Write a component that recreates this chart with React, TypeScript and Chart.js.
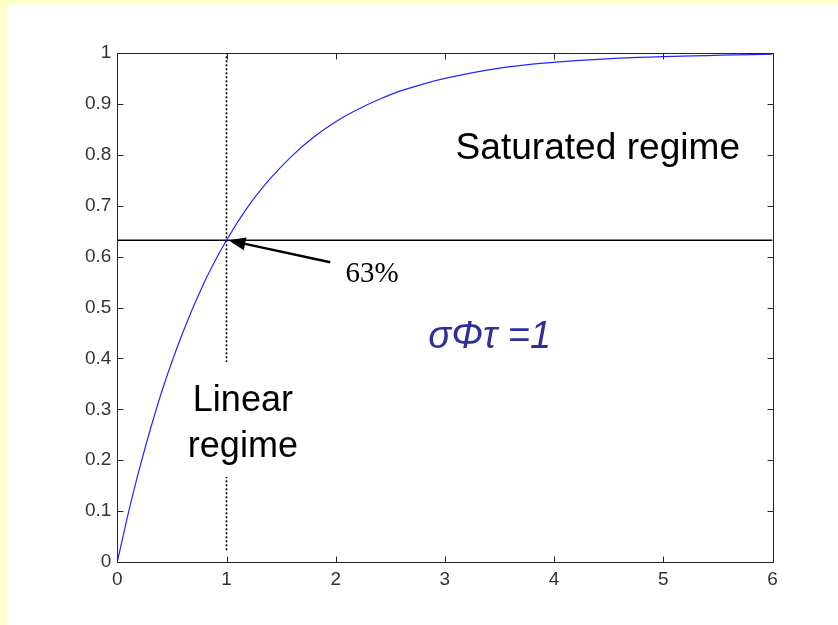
import React, { useEffect, useRef } from 'react';
import { Chart, registerables } from 'chart.js';

Chart.register(...registerables);

// Normalised response vs. dimensionless time σΦτ
const timeValues = [0, 0.1, 0.2, 0.4, 0.6, 0.8, 1.0, 1.2, 1.4, 1.6, 1.8, 2.0, 2.2, 2.4, 2.6, 2.8, 3.0, 3.4, 3.8, 4.2, 4.6, 5.0, 5.4, 5.8, 6.0];
const responseValues = [0, 0.095, 0.181, 0.330, 0.451, 0.551, 0.632, 0.699, 0.753, 0.798, 0.835, 0.865, 0.889, 0.909, 0.926, 0.939, 0.950, 0.967, 0.978, 0.985, 0.990, 0.993, 0.995, 0.997, 0.9975];

const xTickValues = [0, 1, 2, 3, 4, 5, 6];
const xTickLabels = ['0', '1', '2', '3', '4', '5', '6'];
const yTickValues = [0, 0.1, 0.2, 0.3, 0.4, 0.5, 0.6, 0.7, 0.8, 0.9, 1];
const yTickLabels = ['0', '0.1', '0.2', '0.3', '0.4', '0.5', '0.6', '0.7', '0.8', '0.9', '1'];

// 63 % level reached at σΦτ = 1
const thresholdLevel = 0.632;
const thresholdTime = 1;

const TICK_FONT = "'Liberation Sans', Arial, sans-serif";

const slideBackground = {
  id: 'slideBackground',
  beforeDraw(chart: any) {
    const { ctx, width, height } = chart;
    ctx.save();
    ctx.fillStyle = '#FFFFCC';
    ctx.fillRect(0, 0, width, height);
    ctx.fillStyle = '#FFFFFF';
    ctx.fillRect(7, 5, width - 7, height - 5);
    ctx.restore();
  },
};

const annotations = {
  id: 'annotations',
  afterDatasetsDraw(chart: any) {
    const { ctx } = chart;
    const xs = chart.scales.x;
    const ys = chart.scales.y;
    const px = (v: number) => xs.getPixelForValue(v);
    const py = (v: number) => ys.getPixelForValue(v);
    ctx.save();

    // Linear regime label with white backing
    ctx.font = `36px ${TICK_FONT}`;
    ctx.textAlign = 'center';
    ctx.textBaseline = 'alphabetic';
    const lx = px(1.15);
    ctx.fillStyle = '#FFFFFF';
    ctx.fillRect(lx - 60, py(0.393), 120, py(0.167) - py(0.393));
    ctx.fillStyle = '#000000';
    ctx.fillText('Linear', lx, py(0.296));
    ctx.fillText('regime', lx, py(0.207));

    // Saturated regime label
    ctx.save();
    ctx.translate(px(4.40), py(0.792));
    ctx.scale(1.03, 1);
    ctx.fillText('Saturated regime', 0, 0);
    ctx.restore();

    // σΦτ = 1
    ctx.fillStyle = '#2E2E9C';
    ctx.font = `italic 38px ${TICK_FONT}`;
    ctx.fillText('σΦτ =1', px(3.41), py(0.420));

    // 63% label
    ctx.fillStyle = '#000000';
    ctx.font = "29px 'Liberation Serif', 'Times New Roman', serif";
    ctx.textAlign = 'left';
    ctx.fillText('63%', px(2.09), py(0.550));

    // Arrow pointing to the 63 % crossing
    const tipX = px(thresholdTime) + 2;
    const tipY = py(thresholdLevel);
    const tailX = px(1.95);
    const tailY = py(0.589);
    const ang = Math.atan2(tipY - tailY, tipX - tailX);
    const headLen = 17;
    const headHalf = 6.5;
    const baseX = tipX - headLen * Math.cos(ang);
    const baseY = tipY - headLen * Math.sin(ang);
    ctx.strokeStyle = '#000000';
    ctx.lineWidth = 2.5;
    ctx.beginPath();
    ctx.moveTo(tailX, tailY);
    ctx.lineTo(baseX, baseY);
    ctx.stroke();
    ctx.beginPath();
    ctx.moveTo(tipX, tipY);
    ctx.lineTo(baseX + headHalf * Math.sin(ang), baseY - headHalf * Math.cos(ang));
    ctx.lineTo(baseX - headHalf * Math.sin(ang), baseY + headHalf * Math.cos(ang));
    ctx.closePath();
    ctx.fillStyle = '#000000';
    ctx.fill();

    ctx.restore();
  },
};

// Box frame with inward tick marks on all four sides
const frame = {
  id: 'frame',
  afterDraw(chart: any) {
    const { ctx, chartArea } = chart;
    const xs = chart.scales.x;
    const ys = chart.scales.y;
    const L = Math.round(chartArea.left) + 0.5;
    const R = Math.round(chartArea.right) + 0.5;
    const T = Math.round(chartArea.top) + 0.5;
    const B = Math.round(chartArea.bottom) + 0.5;
    const tick = 6;
    ctx.save();
    ctx.strokeStyle = '#262626';
    ctx.lineWidth = 1;
    ctx.strokeRect(L, T, R - L, B - T);
    ctx.beginPath();
    xTickValues.forEach((v) => {
      const x = Math.round(xs.getPixelForValue(v)) + 0.5;
      ctx.moveTo(x, B);
      ctx.lineTo(x, B - tick);
      ctx.moveTo(x, T);
      ctx.lineTo(x, T + tick);
    });
    yTickValues.forEach((v) => {
      const y = Math.round(ys.getPixelForValue(v)) + 0.5;
      ctx.moveTo(L, y);
      ctx.lineTo(L + tick, y);
      ctx.moveTo(R, y);
      ctx.lineTo(R - tick, y);
    });
    ctx.stroke();
    ctx.restore();
  },
};

export default function App() {
  const canvasRef = useRef<HTMLCanvasElement | null>(null);

  useEffect(() => {
    const canvas = canvasRef.current;
    if (!canvas) return;
    const chart = new Chart(canvas, {
      type: 'line',
      data: {
        datasets: [
          {
            label: 'response',
            data: timeValues.map((t, i) => ({ x: t, y: responseValues[i] })),
            borderColor: '#2424FF',
            borderWidth: 1.2,
            pointRadius: 0,
            cubicInterpolationMode: 'monotone',
            fill: false,
          },
          {
            label: 'threshold',
            data: [
              { x: 0, y: thresholdLevel },
              { x: 6, y: thresholdLevel },
            ],
            borderColor: '#000000',
            borderWidth: 1.5,
            pointRadius: 0,
            fill: false,
          },
          {
            label: 'time constant',
            data: [
              { x: thresholdTime, y: 0.023 },
              { x: thresholdTime, y: 1 },
            ],
            borderColor: '#000000',
            borderWidth: 1.6,
            borderDash: [2, 2],
            pointRadius: 0,
            fill: false,
          },
        ],
      },
      options: {
        responsive: false,
        animation: false,
        events: [],
        layout: { padding: { top: 53, right: 65.5, left: 0, bottom: 23 } },
        plugins: {
          legend: { display: false },
          tooltip: { enabled: false },
        },
        scales: {
          x: {
            type: 'linear',
            min: 0,
            max: 6,
            grid: { display: false, drawTicks: false },
            border: { display: false },
            afterBuildTicks: (scale: any) => {
              scale.ticks = xTickValues.map((v) => ({ value: v }));
            },
            afterFit: (scale: any) => {
              scale.height = 40;
            },
            ticks: {
              padding: 6,
              maxRotation: 0,
              autoSkip: false,
              color: '#333333',
              font: { family: TICK_FONT, size: 19 },
              callback: (v: any) => xTickLabels[xTickValues.indexOf(Number(v))] ?? '',
            },
          },
          y: {
            type: 'linear',
            min: 0,
            max: 1,
            grid: { display: false, drawTicks: false },
            border: { display: false },
            afterBuildTicks: (scale: any) => {
              scale.ticks = yTickValues.map((v) => ({ value: v }));
            },
            afterFit: (scale: any) => {
              scale.width = 117.3;
            },
            ticks: {
              padding: 6,
              autoSkip: false,
              color: '#333333',
              font: { family: TICK_FONT, size: 19 },
              callback: (v: any) => {
                const idx = yTickValues.findIndex((t) => Math.abs(t - Number(v)) < 1e-9);
                return idx >= 0 ? yTickLabels[idx] : '';
              },
            },
          },
        },
      } as any,
      plugins: [slideBackground, annotations, frame],
    });
    return () => chart.destroy();
  }, []);

  return (
    <div style={{ position: 'fixed', left: 0, top: 0, width: 838, height: 625 }}>
      <canvas ref={canvasRef} width={838} height={625} style={{ display: 'block', width: 838, height: 625 }} />
    </div>
  );
}
